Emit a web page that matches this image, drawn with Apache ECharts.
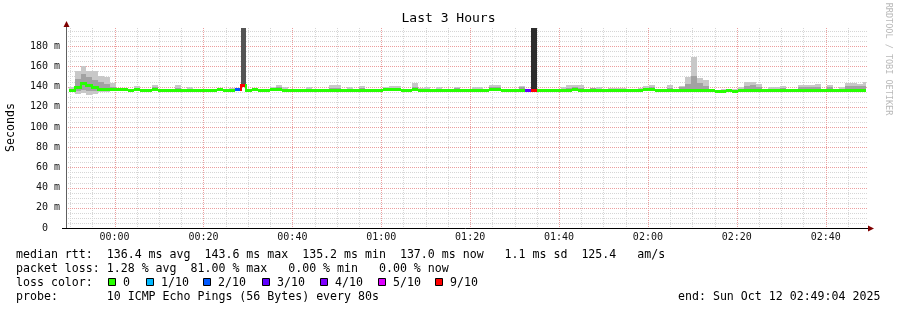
<!DOCTYPE html>
<html><head><meta charset="utf-8">
<script src="https://cdn.jsdelivr.net/npm/echarts@6/dist/echarts.min.js"></script>
<style>html,body{margin:0;padding:0;background:#fff;}#c{width:897px;height:310px;}</style>
</head><body><div id="c"></div>
<script>
// ---- time frame (minutes relative to 00:00) ----
const X_MIN = -(10 + 56 / 60);      // 23:49:04
const X_MAX = 169 + 4 / 60;         // 02:49:04
const FIRST_STEP = -(10 + 20 / 60); // start of first 80 s step
const STEP = 80 / 60;

// ---- tick labels ----
const xLabelTicks = [0, 20, 40, 60, 80, 100, 120, 140, 160];
const xMinorTicks = [-10, -5, 5, 10, 15, 25, 30, 35, 45, 50, 55, 65, 70, 75, 85, 90, 95, 105, 110, 115, 125, 130, 135, 145, 150, 155, 165];
const yLabelTicks = [20, 40, 60, 80, 100, 120, 140, 160, 180];
const yMinorTicks = [5, 10, 15, 25, 30, 35, 45, 50, 55, 65, 70, 75, 85, 90, 95, 105, 110, 115, 125, 130, 135, 145, 150, 155, 165, 170, 175, 185, 190, 195];

// ---- per-step values (ms) ----
const median = [
 136.8,140.0,143.6,141.5,140.0,138.0,138.0,137.8,137.3,137.3,
 136.6,137.3,136.6,136.6,137.4,136.6,136.5,136.5,136.9,136.5,
 136.5,136.4,136.4,136.5,136.5,137.5,136.6,136.5,138.0,141.5,
 136.5,137.4,136.5,136.4,137.4,137.4,136.6,136.4,136.4,136.5,
 136.6,136.5,136.4,136.5,136.6,136.7,136.5,136.5,136.4,136.6,
 136.5,136.4,136.5,137.3,137.4,137.3,136.5,136.4,137.6,136.5,
 136.4,136.4,136.5,136.4,136.5,136.3,136.4,136.5,136.5,136.5,
 136.6,137.4,137.2,136.5,136.3,136.3,136.6,136.3,136.3,137.0,
 136.6,136.5,136.4,136.5,137.0,137.2,136.9,136.5,136.4,136.5,
 136.4,136.5,136.5,136.5,136.5,136.6,136.8,137.3,137.3,136.6,
 136.4,136.8,136.5,136.9,136.5,137.0,136.8,136.6,136.2,135.2,
 135.8,136.4,136.0,136.4,136.6,136.5,136.5,136.6,136.8,136.7,
 137.0,136.5,136.5,136.6,136.9,137.0,136.9,136.6,136.9,136.5,
 136.4,136.5,136.7,136.6,137.0];
const pingMax = [
 139.5,155.5,160.0,155.5,155.0,150.0,149.5,143.7,138.5,138.0,
 138.0,141.0,138.0,138.0,142.0,138.0,138.0,138.0,141.5,138.0,
 139.5,138.0,138.0,138.0,138.0,138.5,138.0,138.5,138.5,142.5,
 138.0,138.0,138.0,138.0,139.5,142.0,140.0,138.0,138.0,138.0,
 139.5,138.0,138.0,138.0,141.5,141.5,138.0,140.0,138.0,141.0,
 138.0,138.0,138.0,139.5,140.5,140.5,138.0,138.0,143.7,138.5,
 139.5,138.0,139.5,138.0,138.0,139.5,138.0,138.0,139.5,139.5,
 138.0,141.7,141.7,138.0,138.0,138.0,141.0,137.5,137.5,138.0,
 138.0,138.0,138.0,139.5,141.5,141.5,141.5,138.0,139.0,139.5,
 138.0,139.0,139.0,139.0,138.0,138.0,138.5,141.0,142.0,138.0,
 138.0,142.0,138.0,141.0,149.7,168.8,148.7,146.4,138.0,137.0,
 137.5,138.0,138.0,140.0,144.3,144.3,143.0,138.0,140.0,140.0,
 141.0,138.0,138.0,142.0,142.0,142.0,143.0,138.0,142.0,138.0,
 140.0,144.0,144.0,143.0,144.5];
const pingMin = [
 135.5,133.0,134.0,132.0,133.0,135.0,135.0,135.5,135.5,135.5,
 135.4,135.5,135.4,135.4,135.5,135.4,135.3,135.3,135.5,135.3,
 135.3,135.2,135.2,135.3,135.3,135.5,135.4,135.3,136.5,140.0,
 135.3,135.5,134.5,135.2,135.5,135.5,135.4,135.2,135.2,135.3,
 134.8,135.3,135.2,135.3,135.4,135.4,135.3,135.3,135.2,135.4,
 135.3,135.2,135.3,135.5,135.5,135.5,135.3,135.2,135.6,135.3,
 135.2,135.2,135.3,135.2,135.3,134.3,135.2,135.3,135.3,135.3,
 135.4,135.5,135.5,135.3,134.5,134.5,135.0,135.5,136.0,135.5,
 135.4,135.3,135.2,135.3,135.5,135.5,135.5,135.3,134.6,135.3,
 135.2,135.3,135.3,135.3,135.3,135.4,135.5,135.5,135.5,135.4,
 135.2,135.5,135.3,134.8,135.3,135.5,135.5,135.4,135.0,134.3,
 134.8,135.2,134.9,135.2,135.4,135.3,135.3,135.4,135.5,135.4,
 135.5,135.3,135.3,135.4,135.0,135.5,135.5,135.4,134.8,135.3,
 135.2,135.3,135.4,135.4,135.5];
const pingQ1 = [
 136.0,135.5,137.0,135.5,136.0,136.5,136.5,136.8,136.8,136.8,
 136.1,136.8,136.1,136.1,136.9,136.1,136.0,136.0,136.4,136.0,
 136.0,135.9,135.9,136.0,136.0,137.0,136.1,136.0,137.5,141.0,
 136.0,136.9,135.5,135.9,136.9,136.9,136.1,135.9,135.9,136.0,
 135.8,136.0,135.9,136.0,136.1,136.2,136.0,136.0,135.9,136.1,
 136.0,135.9,136.0,136.8,136.9,136.8,136.0,135.9,137.1,136.0,
 135.9,135.9,136.0,135.9,136.0,135.2,135.9,136.0,136.0,136.0,
 136.1,136.9,136.7,136.0,135.5,135.5,136.0,135.8,136.3,136.5,
 136.1,136.0,135.9,136.0,136.5,136.7,136.4,136.0,135.5,136.0,
 135.9,136.0,136.0,136.0,136.0,136.1,136.3,136.8,136.8,136.1,
 135.9,136.3,136.0,135.8,136.0,136.5,136.3,136.1,135.7,134.8,
 135.3,135.9,135.5,135.9,136.1,136.0,136.0,136.1,136.3,136.2,
 136.5,136.0,136.0,136.1,136.4,136.5,136.4,136.1,135.8,136.0,
 135.9,136.0,136.2,136.1,136.5];
const pingQ3 = [
 137.5,148.0,152.0,149.0,147.0,145.0,143.0,140.0,137.8,137.8,
 137.1,139.0,137.1,137.1,139.5,137.1,137.0,137.0,139.0,137.0,
 137.5,136.9,136.9,137.0,137.0,138.0,137.1,137.0,138.5,142.0,
 137.0,137.9,137.0,136.9,138.0,139.5,137.5,136.9,136.9,137.0,
 138.0,137.0,136.9,137.0,139.0,139.0,137.0,138.0,136.9,139.0,
 137.0,136.9,137.0,137.8,138.5,138.5,137.0,136.9,140.0,137.0,
 137.5,136.9,137.5,136.9,137.0,139.0,136.9,137.0,137.5,137.5,
 137.1,139.5,139.5,137.0,136.8,136.8,139.5,136.8,136.8,137.5,
 137.1,137.0,136.9,137.5,139.0,139.5,139.0,137.0,138.5,137.5,
 136.9,137.5,137.5,137.5,137.0,137.1,137.5,139.0,139.5,137.1,
 136.9,139.0,137.0,139.5,143.0,150.0,144.0,141.0,136.7,135.7,
 136.3,136.9,136.5,138.0,141.0,141.5,140.0,137.1,138.0,138.0,
 139.0,137.0,137.0,139.5,139.5,140.0,140.0,137.1,139.5,137.0,
 138.0,140.5,141.0,140.5,141.0];
// packet loss per step (%)
const lossPct = [
 0,0,0,0,0,0,0,0,0,0, 0,0,0,0,0,0,0,0,0,0,
 0,0,0,0,0,0,0,0,20,60, 0,0,0,0,0,0,0,0,0,0,
 0,0,0,0,0,0,0,0,0,0, 0,0,0,0,0,0,0,0,0,0,
 0,0,0,0,0,0,0,0,0,0, 0,0,0,0,0,0,0,30,81,0,
 0,0,0,0,0,0,0,0,0,0, 0,0,0,0,0,0,0,0,0,0,
 0,0,0,0,0,0,0,0,0,0, 0,0,0,0,0,0,0,0,0,0,
 0,0,0,0,0,0,0,0,0,0, 0,0,0,0,0];

const lossLabels = ['0', '1/10', '2/10', '3/10', '4/10', '5/10', '9/10'];
const lossLimits = [0, 10, 20, 30, 40, 50, 100];
const lossColors = ['#26ff00', '#00b8ff', '#0059ff', '#5e00ff', '#7e00ff', '#dd00ff', '#ff0000'];

const statsLine1 = 'median rtt:  136.4 ms avg  143.6 ms max  135.2 ms min  137.0 ms now   1.1 ms sd  125.4   am/s';
const statsLine2 = 'packet loss: 1.28 % avg  81.00 % max   0.00 % min   0.00 % now';
const probeLine = 'probe:       10 ICMP Echo Pings (56 Bytes) every 80s';
const endLine = 'end: Sun Oct 12 02:49:04 2025';

const MONO = '"DejaVu Sans Mono", monospace';
function lossColor(p) { for (let k = 0; k < lossLimits.length; k++) if (p <= lossLimits[k]) return lossColors[k]; return lossColors[lossColors.length - 1]; }
function pad2(n) { return (n < 10 ? '0' : '') + n; }

const stepData = median.map((m, i) => [FIRST_STEP + i * STEP, m, pingMin[i], pingQ1[i], pingQ3[i], pingMax[i], lossPct[i], i > 0 ? median[i - 1] : m]);
const gridData = []
  .concat(xMinorTicks.map(v => [v, 0, 0]))
  .concat(yMinorTicks.map(v => [v, 1, 0]))
  .concat(xLabelTicks.map(v => [v, 0, 1]))
  .concat(yLabelTicks.map(v => [v, 1, 1]));

const chart = echarts.init(document.getElementById('c'), null, { renderer: 'canvas' });

function renderGrid(params, api) {
  const cs = params.coordSys;
  const v = api.value(0), axis = api.value(1), major = api.value(2);
  const style = { stroke: major ? '#eb9e9e' : '#d6d6d6', lineWidth: 1, lineDash: [1, 1] };
  if (axis === 0) {
    const x = Math.round(api.coord([v, 0])[0]) + 0.5;
    return { type: 'line', shape: { x1: x, y1: cs.y, x2: x, y2: cs.y + cs.height }, style };
  }
  const y = Math.round(api.coord([X_MIN, v])[1]) + 0.5;
  return { type: 'line', shape: { x1: cs.x + 2, y1: y, x2: cs.x + cs.width + 2, y2: y }, style };
}

function renderStep(params, api) {
  const cs = params.coordSys;
  const t0 = api.value(0), med = api.value(1), mn = api.value(2), q1 = api.value(3), q3 = api.value(4), mx = api.value(5), loss = api.value(6), prev = api.value(7);
  let x0 = api.coord([t0, 0])[0], x1 = api.coord([t0 + STEP, 0])[0];
  x0 = Math.round(Math.max(x0, cs.x + 1)); x1 = Math.round(Math.min(x1, cs.x + cs.width));
  if (x1 <= x0) return null;
  const Y = v => Math.round(api.coord([t0, v])[1]);
  const w = x1 - x0;
  const col = lossColor(loss);
  const ch = [];
  ch.push({ type: 'rect', shape: { x: x0, y: Y(mx), width: w, height: Math.max(0, Y(mn) - Y(mx)) }, style: { fill: '#c8c8c8' } });
  ch.push({ type: 'rect', shape: { x: x0, y: Y(q3), width: w, height: Math.max(0, Y(q1) - Y(q3)) }, style: { fill: '#a2a2a2' } });
  if (loss > 50) {
    ch.push({ type: 'rect', shape: { x: x0, y: cs.y, width: w, height: Y(med) - cs.y }, style: { fill: loss >= 80 ? '#2e2e2e' : '#555555' } });
  }
  const ym = Y(med), yp = Y(prev);
  ch.push({ type: 'rect', shape: { x: x0, y: ym - 1, width: w, height: 3 }, style: { fill: col } });
  if (Math.abs(yp - ym) >= 2) {
    const a = Math.min(yp, ym), b = Math.max(yp, ym);
    ch.push({ type: 'rect', shape: { x: x0 - 1, y: a - 1, width: 2, height: b - a + 3 }, style: { fill: col } });
  }
  return { type: 'group', children: ch };
}

const legendGraphics = [];
const boxX = [108, 146, 203, 262, 320, 378, 435];
lossLabels.forEach((lab, k) => {
  legendGraphics.push({ type: 'rect', shape: { x: boxX[k] + 0.5, y: 278.5, width: 7, height: 7 }, style: { fill: lossColors[k], stroke: '#000', lineWidth: 1 } });
  legendGraphics.push({ type: 'text', x: boxX[k] + 15, y: 282.5, style: { text: lab, font: '11.6px ' + MONO, fill: '#000', verticalAlign: 'middle', textVerticalAlign: 'middle' } });
});

function txt(s, x, y, size, opts) {
  return Object.assign({ type: 'text', x, y, style: Object.assign({ text: s, font: size + 'px ' + MONO, fill: '#000', verticalAlign: 'middle', textVerticalAlign: 'middle' }, (opts && opts.style) || {}) }, (opts && opts.el) || {});
}

chart.setOption({
  animation: false,
  backgroundColor: '#ffffff',
  grid: { left: 66, top: 28, width: 800, height: 200, containLabel: false },
  xAxis: {
    type: 'value', min: X_MIN, max: X_MAX,
    axisLine: { show: false }, axisTick: { show: false }, splitLine: { show: false },
    axisLabel: {
      customValues: xLabelTicks, margin: 4, fontFamily: MONO, fontSize: 10, color: '#111',
      formatter: v => pad2(Math.floor(v / 60)) + ':' + pad2(v % 60)
    }
  },
  yAxis: {
    type: 'value', min: 0, max: 198,
    axisLine: { show: false }, axisTick: { show: false }, splitLine: { show: false },
    axisLabel: {
      customValues: [0].concat(yLabelTicks), margin: 6, fontFamily: MONO, fontSize: 10, color: '#111',
      formatter: v => v === 0 ? '0  ' : v + ' m'
    }
  },
  series: [
    { type: 'custom', name: 'grid', silent: true, z: 1, renderItem: renderGrid, data: gridData, clip: false },
    { type: 'custom', name: 'rtt', silent: true, z: 2, renderItem: renderStep, data: stepData, clip: true }
  ],
  graphic: [
    txt('Last 3 Hours', 448.5, 19, 13, { style: { align: 'center', textAlign: 'center' } }),
    txt('Seconds', 11, 127.5, 11.6, { style: { align: 'center', textAlign: 'center' }, el: { rotation: Math.PI / 2 } }),
    txt('RRDTOOL / TOBI OETIKER', 888.5, 59, 8.5, { style: { align: 'center', textAlign: 'center', fill: '#b8b8b8' }, el: { rotation: -Math.PI / 2 } }),
    { type: 'line', z: 10, shape: { x1: 66.5, y1: 228, x2: 66.5, y2: 25 }, style: { stroke: '#606060', lineWidth: 1 } },
    { type: 'line', z: 10, shape: { x1: 62, y1: 228.5, x2: 869, y2: 228.5 }, style: { stroke: '#000', lineWidth: 1 } },
    { type: 'polygon', z: 11, shape: { points: [[66.5, 21], [63.5, 27], [69.5, 27]] }, style: { fill: '#7f0000' } },
    { type: 'polygon', z: 11, shape: { points: [[874, 228.5], [868, 225.5], [868, 231.5]] }, style: { fill: '#7f0000' } },
    txt(statsLine1, 16, 254.5, 11.6),
    txt(statsLine2, 16, 268.5, 11.6),
    txt('loss color:', 16, 282.5, 11.6),
    txt(probeLine, 16, 296.5, 11.6),
    txt(endLine, 678, 296.5, 11.6)
  ].concat(legendGraphics)
});
</script></body></html>
